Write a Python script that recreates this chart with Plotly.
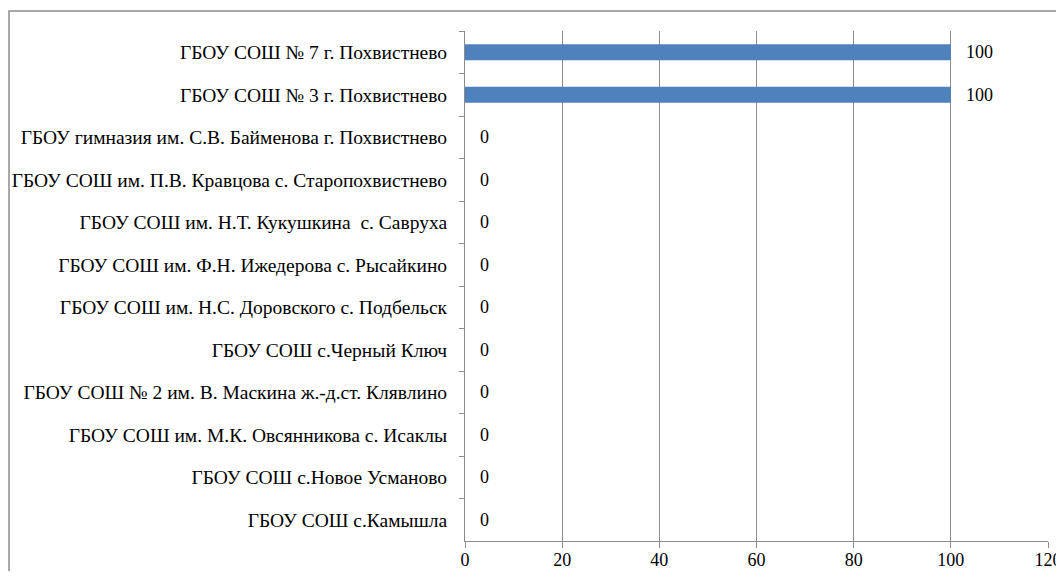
import plotly.graph_objects as go

categories = [
    "ГБОУ СОШ № 7 г. Похвистнево",
    "ГБОУ СОШ № 3 г. Похвистнево",
    "ГБОУ гимназия им. С.В. Байменова г. Похвистнево",
    "ГБОУ СОШ им. П.В. Кравцова с. Старопохвистнево",
    "ГБОУ СОШ им. Н.Т. Кукушкина  с. Савруха",
    "ГБОУ СОШ им. Ф.Н. Ижедерова с. Рысайкино",
    "ГБОУ СОШ им. Н.С. Доровского с. Подбельск",
    "ГБОУ СОШ с.Черный Ключ",
    "ГБОУ СОШ № 2 им. В. Маскина ж.-д.ст. Клявлино",
    "ГБОУ СОШ им. М.К. Овсянникова с. Исаклы",
    "ГБОУ СОШ с.Новое Усманово",
    "ГБОУ СОШ с.Камышла",
]
values = [100, 100, 0, 0, 0, 0, 0, 0, 0, 0, 0, 0]
x_ticks = [0, 20, 40, 60, 80, 100, 120]

FONT = "Liberation Serif, Times New Roman, serif"
GRID = "#8c8c8c"
LABEL_SIZE = 19.5
NUM_SIZE = 18

fig = go.Figure(go.Bar(
    x=values,
    y=categories,
    orientation="h",
    marker=dict(color="#4F81BD", line=dict(width=0)),
    width=0.38,
    hoverinfo="skip",
))

annotations = [
    dict(x=v, y=c, xref="x", yref="y", text=str(v), showarrow=False,
         xanchor="left", yanchor="middle", xshift=13,
         font=dict(family=FONT, size=NUM_SIZE, color="#000000"))
    for c, v in zip(categories, values)
]

# the page body adds an 8px margin; size the figure so the page fits the window
W, H = 1056, 563
L, R, T, B = 457, 16, 23, 30
pw = W - L - R
ph = H - T - B

fig.update_layout(
    width=W, height=H,
    margin=dict(l=L, r=R, t=T, b=B, pad=0),
    paper_bgcolor="white",
    plot_bgcolor="white",
    showlegend=False,
    font=dict(family=FONT, size=LABEL_SIZE, color="#000000"),
    annotations=annotations,
    xaxis=dict(
        range=[0, 120],
        tickvals=x_ticks,
        ticktext=[str(v) for v in x_ticks],
        showgrid=True, gridcolor=GRID, gridwidth=1,
        zeroline=False,
        showline=True, linecolor=GRID, linewidth=1,
        ticks="outside", ticklen=6, tickcolor=GRID,
        ticklabelstandoff=-4,
        tickfont=dict(family=FONT, size=NUM_SIZE),
        automargin=False,
        fixedrange=True,
    ),
    yaxis=dict(
        autorange="reversed",
        showgrid=False,
        zeroline=False,
        showline=True, linecolor=GRID, linewidth=1,
        ticks="outside", ticklen=5, tickcolor=GRID,
        tickson="boundaries",
        ticklabelstandoff=13,
        tickfont=dict(family=FONT, size=LABEL_SIZE),
        automargin=False,
        fixedrange=True,
    ),
    shapes=[dict(
        type="rect", xref="paper", yref="paper",
        x0=(1 - L) / pw, x1=(1070 - L) / pw,
        y0=(H - B - 590) / ph, y1=(H - B - 3) / ph,
        line=dict(color="#8c8c8c", width=1.5),
        fillcolor="rgba(0,0,0,0)",
        layer="below",
    )],
)

fig.write_html("out.html")
